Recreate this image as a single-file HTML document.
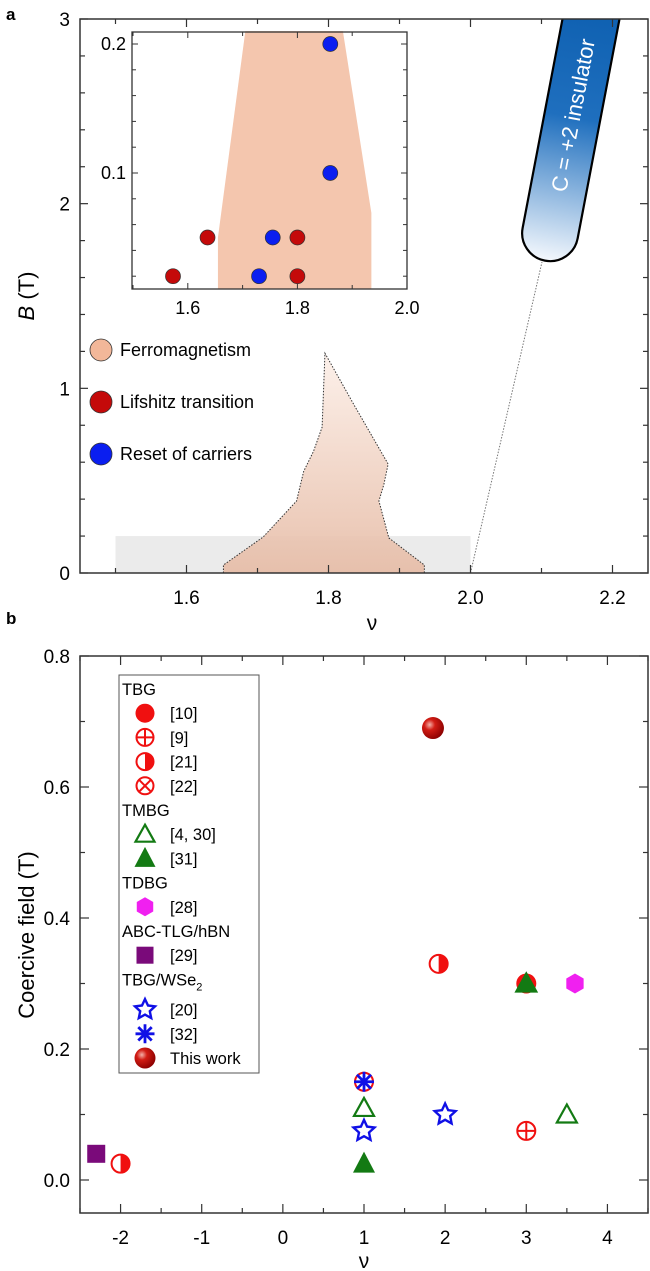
<!DOCTYPE html>
<html><head><meta charset="utf-8"><style>
body{margin:0;background:#fff}
svg{display:block;font-family:"Liberation Sans",sans-serif}
</style></head><body>
<svg id="fig" width="650" height="1271" viewBox="0 0 650 1271">
<defs>
<linearGradient id="pinkGrad" x1="0" y1="0" x2="0" y2="1"><stop offset="0" stop-color="#fcefe8"/><stop offset="1" stop-color="#e6bba5"/></linearGradient>
<linearGradient id="capGrad" x1="0" y1="0" x2="0" y2="1"><stop offset="0" stop-color="#0d5fb0"/><stop offset="0.45" stop-color="#1f6fbe"/><stop offset="1" stop-color="#f4f8fd"/></linearGradient>
<radialGradient id="sphere" cx="0.35" cy="0.35" r="0.7"><stop offset="0" stop-color="#f4b0a8"/><stop offset="0.35" stop-color="#d21c14"/><stop offset="1" stop-color="#8a0000"/></radialGradient>
<clipPath id="clipA"><rect x="80" y="19" width="568" height="554"/></clipPath>
</defs>
<g id="root"></g>
</svg>
<script>
// ---------- Panel a data ----------
const ferroNu = [1.652,1.652,1.708,1.755,1.765,1.779,1.791,1.795,1.836,1.884,1.878,1.871,1.885,1.935,1.935];
const ferroB  = [0,0.043,0.195,0.39,0.55,0.66,0.79,1.19,0.91,0.59,0.48,0.39,0.19,0.043,0];
const insetFerroNu = [1.655,1.655,1.705,1.883,1.935,1.935];
const insetFerroB  = [0.01,0.05,0.21,0.21,0.069,0.01];
const lifNu = [1.573,1.636,1.8,1.8];
const lifB  = [0.02,0.05,0.05,0.02];
const resetNu = [1.73,1.755,1.86,1.86];
const resetB  = [0.02,0.05,0.1,0.2];
const aXTicks = [1.6,1.8,2.0,2.2];
const aXTickLabels = ["1.6","1.8","2.0","2.2"];
const aYTicks = [0,1,2,3];
const insetXTicks = [1.6,1.8,2.0];
const insetXTickLabels = ["1.6","1.8","2.0"];
const insetYTicks = [0.1,0.2];
const insetYTickLabels = ["0.1","0.2"];
// ---------- Panel b data ----------
const bNames = ["abc29","tbg21a","tmbg31a","tbg20a","tmbg430a","tbg22","tbg32","tbg20b","tbg9","tmbg430b","tbg21b","tbg10","tmbg31b","tmbg430c","tdbg28","thiswork"];
const bNu    = [-2.3,-2,1,1,1,1,1,2,3,3.5,1.92,3,3,3,3.6,1.85];
const bField = [0.04,0.025,0.025,0.075,0.11,0.15,0.15,0.1,0.075,0.1,0.33,0.3,0.3,0.3,0.3,0.69];
const bKind  = ["square","half","tri","star","otri","xcirc","ast","star","pcirc","otri","half","circ","tri","otri","hex","sphere"];
const bXTicks = [-2,-1,0,1,2,3,4];
const bXTickLabels = ["-2","-1","0","1","2","3","4"];
const bYTicks = [0,0.2,0.4,0.6,0.8];
const bYTickLabels = ["0.0","0.2","0.4","0.6","0.8"];

const NS="http://www.w3.org/2000/svg";
const root=document.getElementById('root');
function el(tag,attrs,parent,text){const e=document.createElementNS(NS,tag);for(const k in attrs)e.setAttribute(k,attrs[k]);if(text!==undefined)e.textContent=text;(parent||root).appendChild(e);return e;}

const xa=v=>80+(v-1.45)/0.8*568, ya=b=>573-b/3*554;
const xi=v=>133+(v-1.5)/0.5*274, yi=b=>173-(b-0.1)*1290;
const xb=v=>80+(v+2.5)/7*568, yb=c=>1180-c*655;

// ===== Panel a =====
let t=el('text',{x:6,y:20,'font-size':17,'font-weight':'bold'},root,'a');


let r=el('rect',{x:xa(1.5),y:ya(0.2),width:xa(2.0)-xa(1.5),height:ya(0)-ya(0.2),fill:'#ebebeb'});


let pts=ferroNu.map((v,i)=>xa(v)+','+ya(ferroB[i])).join(' ');
let p=el('polygon',{points:pts,fill:'url(#pinkGrad)','fill-opacity':0.9,stroke:'#333','stroke-width':1,'stroke-dasharray':'1.5,1.5'});


let dl=el('line',{x1:xa(2.0),y1:ya(0),x2:542,y2:262,stroke:'#777','stroke-width':1,'stroke-dasharray':'1.5,1.5'});


let clipG=el('g',{'clip-path':'url(#clipA)'});
let cg=el('g',{transform:'translate(591,19) rotate(10.8)'},clipG);


el('path',{d:'M-28,-20 L28,-20 L28,218 A28,28 0 0 1 -28,218 Z',fill:'url(#capGrad)',stroke:'#000','stroke-width':2.2},cg);
let ct=el('text',{x:-98,y:8,transform:'rotate(-90)','font-size':22,fill:'#fff','text-anchor':'middle'},cg,'C = +2 insulator');


let fa=el('rect',{x:80,y:19,width:568,height:554,fill:'none',stroke:'#333','stroke-width':1.5});


for(let v=1.5;v<=2.21;v+=0.1){const x=xa(v),maj=aXTicks.some(k=>Math.abs(k-v)<1e-6),L=maj?8:5;
 el('line',{x1:x,y1:573,x2:x,y2:573-L,stroke:'#333','stroke-width':1.2});el('line',{x1:x,y1:19,x2:x,y2:19+L,stroke:'#333','stroke-width':1.2});}
for(let b=0;b<=3.001;b+=0.2){const y=ya(b),maj=Math.abs(b-Math.round(b))<1e-6,L=maj?8:5;
 el('line',{x1:80,y1:y,x2:80+L,y2:y,stroke:'#333','stroke-width':1.2});el('line',{x1:648,y1:y,x2:648-L,y2:y,stroke:'#333','stroke-width':1.2});}
aXTicks.forEach((v,i)=>{const tt=el('text',{x:xa(v),y:604,'font-size':19,'text-anchor':'middle'},root,aXTickLabels[i]);
 
 });
aYTicks.forEach(v=>{const tt=el('text',{x:70,y:ya(v)+7,'font-size':19,'text-anchor':'end'},root,String(v));
 
 });
t=el('text',{x:372,y:630,'font-size':21,'text-anchor':'middle'},root,'ν');


t=el('text',{transform:'translate(34,296) rotate(-90)','font-size':22,'text-anchor':'middle'},root);


el('tspan',{'font-style':'italic'},t,'B');el('tspan',{},t,' (T)');
const legA=[["Ferromagnetism","#f2b799"],["Lifshitz transition","#c40a0a"],["Reset of carriers","#0a1ef0"]];
legA.forEach((d,i)=>{const y=350+i*52;const g=el('g',{});
 
 
 el('circle',{cx:101,cy:y,r:11,fill:d[1],stroke:'#333','stroke-width':0.8},g);
 el('text',{x:120,y:y+6,'font-size':18},g,d[0]);});
let ig=el('g',{});


el('rect',{x:132,y:32,width:275,height:257,fill:'#fff'},ig);
p=el('polygon',{points:insetFerroNu.map((v,i)=>xi(v)+','+yi(insetFerroB[i])).join(' '),fill:'#f4c6ae'},ig);


el('rect',{x:132,y:32,width:275,height:257,fill:'none',stroke:'#333','stroke-width':1.3},ig);
for(let v=1.5;v<=2.001;v+=0.1){const x=xi(v),maj=insetXTicks.some(k=>Math.abs(k-v)<1e-6),L=maj?6:4;
 el('line',{x1:x,y1:289,x2:x,y2:289-L,stroke:'#333'},ig);el('line',{x1:x,y1:32,x2:x,y2:32+L,stroke:'#333'},ig);}
for(let b=0.02;b<=0.2001;b+=0.02){const y=yi(b),maj=insetYTicks.some(k=>Math.abs(k-b)<1e-6),L=maj?6:4;
 el('line',{x1:132,y1:y,x2:132+L,y2:y,stroke:'#333'},ig);el('line',{x1:407,y1:y,x2:407-L,y2:y,stroke:'#333'},ig);}
insetXTicks.forEach((v,i)=>{const tt=el('text',{x:xi(v),y:314,'font-size':18,'text-anchor':'middle'},ig,insetXTickLabels[i]);
 
 });
insetYTicks.forEach((v,i)=>{const tt=el('text',{x:126,y:yi(v)+6,'font-size':18,'text-anchor':'end'},ig,insetYTickLabels[i]);
 
 });
lifNu.forEach((v,i)=>{const c=el('circle',{cx:xi(v),cy:yi(lifB[i]),r:7.5,fill:'#c40a0a',stroke:'#333','stroke-width':0.7},ig);
 
 });
resetNu.forEach((v,i)=>{const c=el('circle',{cx:xi(v),cy:yi(resetB[i]),r:7.5,fill:'#0a1ef0',stroke:'#333','stroke-width':0.7},ig);
 
 });

// ===== Panel b =====
t=el('text',{x:6,y:624,'font-size':17,'font-weight':'bold'},root,'b');


let fb=el('rect',{x:80,y:656,width:568,height:557,fill:'none',stroke:'#333','stroke-width':1.5});


for(let v=-2.5;v<=4.501;v+=0.5){const x=xb(v),maj=Math.abs(v-Math.round(v))<1e-6,L=maj?9:5;
 el('line',{x1:x,y1:1213,x2:x,y2:1213-L,stroke:'#333','stroke-width':1.2});el('line',{x1:x,y1:656,x2:x,y2:656+L,stroke:'#333','stroke-width':1.2});}
for(let c=0;c<=0.8001;c+=0.1){const y=yb(c),maj=Math.abs(c*5-Math.round(c*5))<1e-6,L=maj?9:5;
 el('line',{x1:80,y1:y,x2:80+L,y2:y,stroke:'#333','stroke-width':1.2});el('line',{x1:648,y1:y,x2:648-L,y2:y,stroke:'#333','stroke-width':1.2});}
bXTicks.forEach((v,i)=>{const tt=el('text',{x:xb(v),y:1244,'font-size':19,'text-anchor':'middle'},root,bXTickLabels[i]);
 
 });
bYTicks.forEach((v,i)=>{const tt=el('text',{x:70,y:yb(v)+7,'font-size':19,'text-anchor':'end'},root,bYTickLabels[i]);
 
 });
t=el('text',{x:364,y:1268,'font-size':21,'text-anchor':'middle'},root,'ν');


t=el('text',{transform:'translate(34,935) rotate(-90)','font-size':22,'text-anchor':'middle'},root,'Coercive field (T)');



function starPts(cx,cy,R,r0){let s=[];for(let k=0;k<10;k++){const a=-Math.PI/2+k*Math.PI/5,rr=k%2?r0:R;s.push((cx+rr*Math.cos(a)).toFixed(1)+','+(cy+rr*Math.sin(a)).toFixed(1));}return s.join(' ');}
function marker(kind,cx,cy,g,s){s=s||1;const R=10*s,red='#f01010',grn='#137a13',blu='#1010e6';
 if(kind==='circ')el('circle',{cx,cy,r:R,fill:red},g);
 else if(kind==='pcirc'){el('circle',{cx,cy,r:R-1,fill:'#fff',stroke:red,'stroke-width':2},g);el('path',{d:`M${cx-R+1},${cy}H${cx+R-1}M${cx},${cy-R+1}V${cy+R-1}`,stroke:red,'stroke-width':2},g);}
 else if(kind==='xcirc'){el('circle',{cx,cy,r:R-1,fill:'#fff',stroke:red,'stroke-width':2},g);const d=(R-1)*0.7;el('path',{d:`M${cx-d},${cy-d}L${cx+d},${cy+d}M${cx+d},${cy-d}L${cx-d},${cy+d}`,stroke:red,'stroke-width':2},g);}
 else if(kind==='half'){el('circle',{cx,cy,r:R-1,fill:'#fff',stroke:red,'stroke-width':2},g);el('path',{d:`M${cx},${cy-R+1}A${R-1},${R-1} 0 0 1 ${cx},${cy+R-1}Z`,fill:red},g);}
 else if(kind==='tri')el('polygon',{points:`${cx},${cy-R-2} ${cx+R+1},${cy+R-1} ${cx-R-1},${cy+R-1}`,fill:grn},g);
 else if(kind==='otri')el('polygon',{points:`${cx},${cy-R} ${cx+R},${cy+R-2} ${cx-R},${cy+R-2}`,fill:'none',stroke:grn,'stroke-width':2.2},g);
 else if(kind==='star')el('polygon',{points:starPts(cx,cy,R+1,(R+1)*0.48),fill:'#fff',stroke:blu,'stroke-width':2.4},g);
 else if(kind==='ast'){let d='';for(let k=0;k<4;k++){const a=k*Math.PI/4;d+=`M${cx-R*Math.cos(a)},${cy-R*Math.sin(a)}L${cx+R*Math.cos(a)},${cy+R*Math.sin(a)}`;}el('path',{d,stroke:blu,'stroke-width':2.8},g);}
 else if(kind==='hex'){let s2=[];for(let k=0;k<6;k++){const a=Math.PI/6+k*Math.PI/3;s2.push((cx+R*Math.cos(a))+','+(cy+R*Math.sin(a)));}el('polygon',{points:s2.join(' '),fill:'#f020f0'},g);}
 else if(kind==='square')el('rect',{x:cx-R+1,y:cy-R+1,width:2*R-2,height:2*R-2,fill:'#7a0a7a'},g);
 else if(kind==='sphere')el('circle',{cx,cy,r:R+1,fill:'url(#sphere)'},g);
}
bNu.forEach((v,i)=>{const g=el('g',{});
 
 
 marker(bKind[i],xb(v),yb(bField[i]),g,1);});

let lg=el('g',{});


el('rect',{x:119,y:675,width:140,height:398,fill:'#fff',stroke:'#555','stroke-width':1},lg);
const legRows=[["h","TBG"],["circ","[10]"],["pcirc","[9]"],["half","[21]"],["xcirc","[22]"],["h","TMBG"],["otri","[4, 30]"],["tri","[31]"],["h","TDBG"],["hex","[28]"],["h","ABC-TLG/hBN"],["square","[29]"],["h2","TBG/WSe"],["star","[20]"],["ast","[32]"],["sphere","This work"]];
let ly=689;
legRows.forEach((d,i)=>{const g=el('g',{},lg);
 
 
 if(d[0]==='h')el('text',{x:122,y:ly+6,'font-size':16.5},g,d[1]);
 else if(d[0]==='h2'){const tt=el('text',{x:122,y:ly+6,'font-size':16.5},g,d[1]);el('tspan',{'font-size':11,dy:5},tt,'2');ly+=6;}
 else{marker(d[0],145,ly,g,0.95);el('text',{x:170,y:ly+6,'font-size':16.5},g,d[1]);}
 ly+=24.2;});
</script>
</body></html>
